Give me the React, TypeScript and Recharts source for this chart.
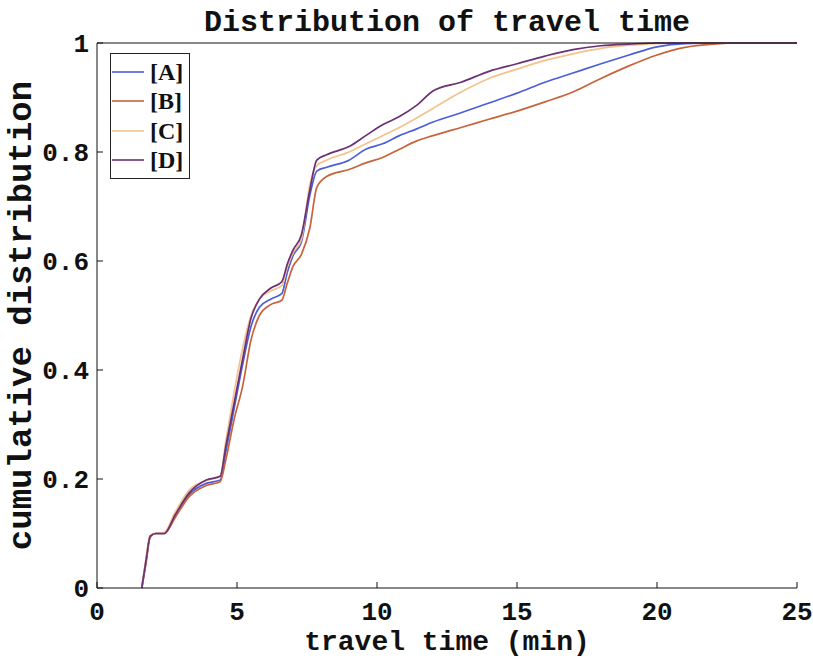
import React from 'react';
import { LineChart, Line, XAxis, YAxis, Legend } from 'recharts';

// Travel time grid (minutes)
const travelTime = [
  1.6, 1.75, 1.9, 2.1, 2.4, 2.8, 3.3, 3.9, 4.4, 4.6, 4.9, 5.2, 5.5, 5.8, 6.2, 6.6,
  6.8, 7.0, 7.3, 7.6, 7.85, 8.2, 9.0, 9.6, 10.2, 10.8, 11.4, 12, 13, 14, 15, 16,
  17, 18, 19, 20, 21, 22, 23, 25,
];

// Cumulative share of trips per scenario
const seriesA = [
  0, 0.05, 0.095, 0.1, 0.1, 0.135, 0.172, 0.192, 0.198, 0.25, 0.33, 0.41, 0.48, 0.515, 0.53, 0.54,
  0.58, 0.61, 0.635, 0.72, 0.765, 0.772, 0.785, 0.805, 0.815, 0.83, 0.842, 0.855, 0.872, 0.89, 0.908, 0.928,
  0.945, 0.962, 0.978, 0.993, 0.999, 1, 1, 1,
];
const seriesB = [
  0, 0.045, 0.093, 0.1, 0.1, 0.13, 0.168, 0.188, 0.195, 0.235, 0.31, 0.37, 0.455, 0.5, 0.52, 0.528,
  0.56, 0.59, 0.612, 0.66, 0.735, 0.755, 0.768, 0.78, 0.79, 0.805, 0.82, 0.83, 0.845, 0.86, 0.875, 0.892,
  0.91, 0.935, 0.958, 0.978, 0.992, 0.998, 1, 1,
];
const seriesC = [
  0, 0.055, 0.097, 0.1, 0.102, 0.14, 0.18, 0.197, 0.205, 0.27, 0.36, 0.44, 0.5, 0.53, 0.545, 0.555,
  0.59, 0.615, 0.64, 0.74, 0.775, 0.785, 0.8, 0.815, 0.83, 0.845, 0.862, 0.88, 0.91, 0.935, 0.952, 0.968,
  0.98, 0.99, 0.996, 0.999, 1, 1, 1, 1,
];
const seriesD = [
  0, 0.05, 0.095, 0.1, 0.1, 0.135, 0.175, 0.198, 0.205, 0.26, 0.34, 0.42, 0.495, 0.53, 0.55, 0.562,
  0.595, 0.62, 0.648, 0.73, 0.785, 0.795, 0.81, 0.83, 0.85, 0.865, 0.885, 0.912, 0.928, 0.948, 0.962, 0.976,
  0.988, 0.995, 0.998, 1, 1, 1, 1, 1,
];

const seriesKeys = ['A', 'B', 'C', 'D'];
const seriesNames = ['[A]', '[B]', '[C]', '[D]'];
const seriesColors = ['#4c5ed8', '#c8643c', '#f2c48c', '#6b3075'];

const xTicks = [0, 5, 10, 15, 20, 25];
const yTicks = [0, 0.2, 0.4, 0.6, 0.8, 1];

const rows = travelTime.map((t, i) => ({
  t,
  A: seriesA[i],
  B: seriesB[i],
  C: seriesC[i],
  D: seriesD[i],
}));

const MONO = '"Liberation Mono", "DejaVu Sans Mono", monospace';
const tickStyle = { fontSize: 26, fontFamily: MONO, fontWeight: 'bold', fill: '#111' };

const renderLegend = (props: any) => {
  const payload = props.payload || [];
  return (
    <div
      style={{
        border: '1.5px solid #222',
        background: '#fff',
        width: 78,
        padding: '3px 0',
        boxSizing: 'content-box',
      }}
    >
      {payload.map((entry: any) => (
        <div
          key={entry.value}
          style={{ display: 'flex', alignItems: 'center', height: 29.5 }}
        >
          <svg width={34} height={4} style={{ marginLeft: 1 }}>
            <line x1={0} y1={2} x2={32} y2={2} stroke={entry.color} strokeWidth={1.6} />
          </svg>
          <span
            style={{
              fontFamily: '"Liberation Serif", serif',
              fontSize: 24,
              fontWeight: 'bold',
              marginLeft: 4,
              color: '#111',
              lineHeight: 1,
            }}
          >
            {entry.value}
          </span>
        </div>
      ))}
    </div>
  );
};

export default function App() {
  return (
    <div style={{ position: 'absolute', left: 0, top: 0, width: 813, height: 664, background: '#fff' }}>
      <LineChart
        width={813}
        height={664}
        data={rows}
        margin={{ top: 13, right: 16, bottom: 0, left: 0 }}
      >
        <XAxis
          xAxisId="bottom"
          dataKey="t"
          type="number"
          domain={[0, 25]}
          ticks={xTicks}
          allowDataOverflow
          height={76}
          stroke="#111"
          tickSize={-6}
          tickMargin={20}
          tick={tickStyle}
          label={{
            content: (p: any) => {
              const vb = p.viewBox;
              return (
                <text
                  x={vb.x + vb.width / 2}
                  y={vb.y + 54}
                  textAnchor="middle"
                  dominantBaseline="central"
                  fontFamily={MONO}
                  fontWeight="bold"
                  fontSize={28}
                  fill="#111"
                >
                  travel time (min)
                </text>
              );
            },
          }}
        />
        <XAxis
          xAxisId="top"
          orientation="top"
          dataKey="t"
          type="number"
          domain={[0, 25]}
          ticks={xTicks}
          height={30}
          stroke="#111"
          tickSize={-6}
          tick={false}
          label={{
            content: (p: any) => {
              const vb = p.viewBox;
              return (
                <text
                  x={vb.x + vb.width / 2}
                  y={vb.y + 10}
                  textAnchor="middle"
                  dominantBaseline="central"
                  fontFamily={MONO}
                  fontWeight="bold"
                  fontSize={30}
                  fill="#111"
                >
                  Distribution of travel time
                </text>
              );
            },
          }}
        />
        <YAxis
          yAxisId="left"
          type="number"
          domain={[0, 1]}
          ticks={yTicks}
          width={97}
          stroke="#111"
          tickSize={-6}
          tickMargin={14}
          tick={tickStyle}
          label={{
            content: (p: any) => {
              const vb = p.viewBox;
              const cx = vb.x + 22;
              const cy = vb.y + vb.height / 2;
              return (
                <text
                  x={cx}
                  y={cy}
                  transform={`rotate(-90, ${cx}, ${cy})`}
                  textAnchor="middle"
                  dominantBaseline="central"
                  fontFamily={MONO}
                  fontWeight="bold"
                  fontSize={34}
                  fill="#111"
                >
                  cumulative distribution
                </text>
              );
            },
          }}
        />
        <YAxis
          yAxisId="right"
          orientation="right"
          type="number"
          domain={[0, 1]}
          ticks={yTicks}
          width={0}
          stroke="#111"
          tickSize={-6}
          tick={false}
        />
        <Legend
          layout="vertical"
          align="center"
          verticalAlign="middle"
          content={renderLegend}
          wrapperStyle={{ left: 110, top: 53, width: 'auto', height: 'auto' }}
        />
        {seriesKeys.map((k, i) => (
          <Line
            key={k}
            xAxisId="bottom"
            yAxisId="left"
            dataKey={k}
            name={seriesNames[i]}
            type="monotone"
            stroke={seriesColors[i]}
            strokeWidth={1.7}
            dot={false}
            activeDot={false}
            isAnimationActive={false}
          />
        ))}
      </LineChart>
    </div>
  );
}
